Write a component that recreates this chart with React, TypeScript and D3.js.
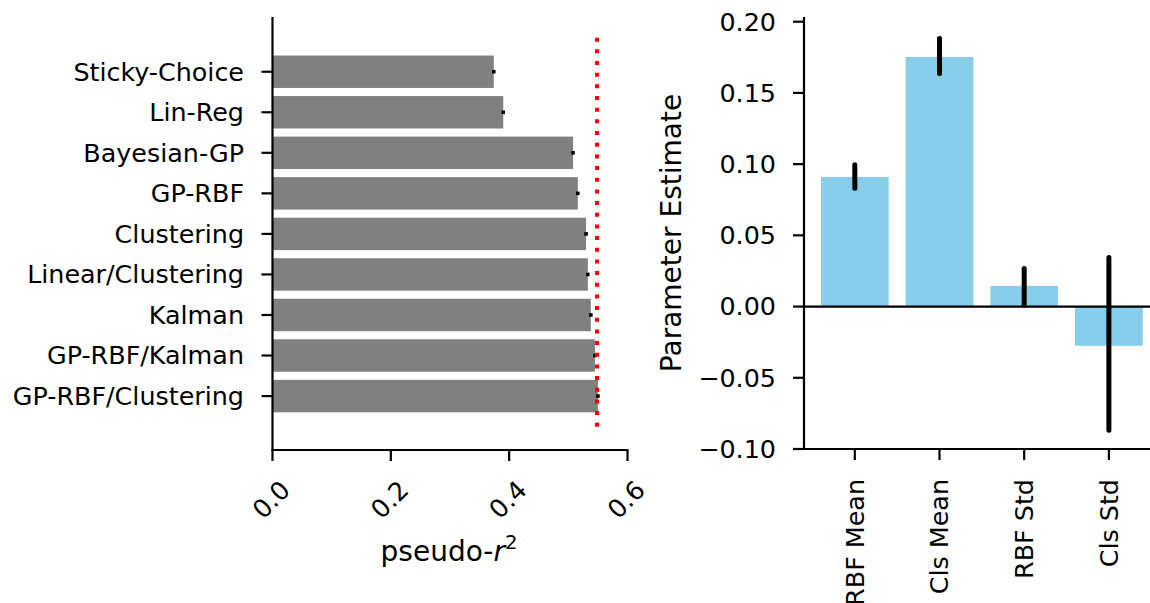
import * as d3 from 'd3';

// left panel: model fits
const models = [
  'Sticky-Choice',
  'Lin-Reg',
  'Bayesian-GP',
  'GP-RBF',
  'Clustering',
  'Linear/Clustering',
  'Kalman',
  'GP-RBF/Kalman',
  'GP-RBF/Clustering',
];
const pseudoR2 = [0.374, 0.39, 0.508, 0.516, 0.53, 0.533, 0.538, 0.545, 0.55];
const pseudoR2Err = [0.003, 0.003, 0.003, 0.003, 0.003, 0.003, 0.003, 0.003, 0.003];
const refValue = 0.5485;
const r2Ticks = [0, 0.2, 0.4, 0.6];

// right panel: parameter estimates
const params = ['RBF Mean', 'Cls Mean', 'RBF Std', 'Cls Std'];
const estimates = [0.091, 0.1752, 0.0145, -0.0275];
const ciLow = [0.0831, 0.1637, 0.001, -0.0868];
const ciHigh = [0.0996, 0.1882, 0.0268, 0.0345];
const estTicks = [-0.1, -0.05, 0, 0.05, 0.1, 0.15, 0.2];

const FONT = '"DejaVu Sans", sans-serif';
const FS = 25.4; // tick labels
const LFS = 28; // axis labels
const fmtMinus = (s: string) => s.replace('-', '\u2212');

function ModelPanel() {
  const x = d3.scaleLinear().domain([0, 0.6]).range([272.5, 627.5]);
  // category positions, index 0 at the top
  const y = d3.scaleLinear().domain([-1.35, 9.33]).range([17, 450]);
  const bh = y(0.4) - y(0);

  return (
    <g>
      {models.map((m, i) => (
        <rect key={m} x={x(0)} y={y(i) - bh} width={x(pseudoR2[i]) - x(0)} height={bh * 2} fill="#808080" />
      ))}
      {models.map((m, i) => (
        <line
          key={'e' + m}
          x1={x(pseudoR2[i] - pseudoR2Err[i])}
          x2={x(pseudoR2[i] + pseudoR2Err[i])}
          y1={y(i)}
          y2={y(i)}
          stroke="#000"
          strokeWidth={3.6}
        />
      ))}
      <line
        x1={x(refValue)}
        x2={x(refValue)}
        y1={y(-0.84)}
        y2={y(8.86)}
        stroke="#ff0000"
        strokeWidth={4}
        strokeDasharray="4 7.67"
      />

      {/* spines */}
      <line x1={x(0)} x2={x(0)} y1={17} y2={451} stroke="#000" strokeWidth={2.2} />
      <line x1={x(0) - 1} x2={x(0.6) + 1} y1={450} y2={450} stroke="#000" strokeWidth={2.2} />

      {models.map((m, i) => (
        <g key={'t' + m}>
          <line x1={x(0) - 11} x2={x(0)} y1={y(i)} y2={y(i)} stroke="#000" strokeWidth={2.2} />
          <text x={244} y={y(i)} dy="0.35em" textAnchor="end" fontSize={FS} fontFamily={FONT}>
            {m}
          </text>
        </g>
      ))}

      {r2Ticks.map(t => (
        <g key={t}>
          <line x1={x(t)} x2={x(t)} y1={450} y2={461} stroke="#000" strokeWidth={2.2} />
          <text
            transform={`translate(${x(t) - 1.5},499.5) rotate(-45)`}
            textAnchor="middle"
            dy="0.36em"
            fontSize={FS}
            fontFamily={FONT}
          >
            {t.toFixed(1)}
          </text>
        </g>
      ))}

      <text x={449} y={561} textAnchor="middle" fontSize={LFS} fontFamily={FONT}>
        pseudo-<tspan fontStyle="italic">r</tspan>
        <tspan fontSize={LFS * 0.7} dy={-12}>2</tspan>
      </text>
    </g>
  );
}

function ParamPanel() {
  const x = d3.scaleLinear().domain([-0.6, 3.6]).range([804, 1159.7]);
  const y = d3.scaleLinear().domain([-0.1, 0.2033]).range([449, 17]);
  const bw = x(0.4) - x(0);

  return (
    <g>
      {params.map((p, i) => (
        <rect
          key={p}
          x={x(i) - bw}
          y={y(Math.max(0, estimates[i]))}
          width={bw * 2}
          height={Math.abs(y(estimates[i]) - y(0))}
          fill="#87CEEB"
        />
      ))}
      <line x1={x(-0.6)} x2={x(3.6)} y1={y(0)} y2={y(0)} stroke="#000" strokeWidth={2.2} />
      {params.map((p, i) => (
        <line
          key={'e' + p}
          x1={x(i)}
          x2={x(i)}
          y1={y(ciLow[i])}
          y2={y(ciHigh[i])}
          stroke="#000"
          strokeWidth={5}
          strokeLinecap="round"
        />
      ))}

      {/* spines */}
      <line x1={804} x2={804} y1={17} y2={450} stroke="#000" strokeWidth={2.2} />
      <line x1={803} x2={1160} y1={449} y2={449} stroke="#000" strokeWidth={2.2} />

      {estTicks.map(t => (
        <g key={t}>
          <line x1={793} x2={804} y1={y(t)} y2={y(t)} stroke="#000" strokeWidth={2.2} />
          <text x={776} y={y(t)} dy="0.35em" textAnchor="end" fontSize={FS} fontFamily={FONT}>
            {fmtMinus(t.toFixed(2))}
          </text>
        </g>
      ))}

      {params.map((p, i) => (
        <g key={'x' + p}>
          <line x1={x(i)} x2={x(i)} y1={449} y2={460} stroke="#000" strokeWidth={2.2} />
          <text
            transform={`translate(${x(i)},479) rotate(-90)`}
            textAnchor="end"
            dy="0.35em"
            fontSize={FS}
            fontFamily={FONT}
          >
            {p}
          </text>
        </g>
      ))}

      <text
        transform="translate(681,233) rotate(-90)"
        textAnchor="middle"
        fontSize={LFS}
        fontFamily={FONT}
      >
        Parameter Estimate
      </text>
    </g>
  );
}

export default function App() {
  return (
    <div style={{ position: 'absolute', left: 0, top: 0 }}>
      <svg width={1150} height={603} style={{ display: 'block', background: '#fff' }}>
        <ModelPanel />
        <ParamPanel />
      </svg>
    </div>
  );
}
